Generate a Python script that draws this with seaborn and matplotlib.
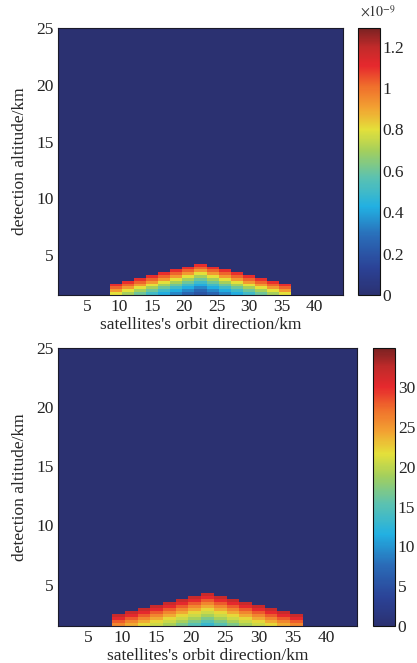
import numpy as np
import matplotlib
matplotlib.use("Agg")
import matplotlib.pyplot as plt
from matplotlib.colors import LinearSegmentedColormap
import seaborn as sns

sns.set_style("white")
plt.rcParams["font.family"] = ["Liberation Serif", "DejaVu Serif"]
plt.rcParams["mathtext.fontset"] = "stix"

# Along-track extent of the illuminated columns (km)
x_start_km = 8.5
x_end_km = 36.5
x_limits_km = (0.5, 44.5)

# Altitude grid (km)
base_alt_km = 1.5
dz_km = 0.25
y_top_km = 25.0

# Top edge altitude of the signal in each along-track column (km)
edge_alt_km = [2.50, 2.75, 3.00, 3.25, 3.50, 3.75, 4.00, 4.25,
               4.00, 3.75, 3.50, 3.25, 3.00, 2.75, 2.50]

# Cell values counted downward from the top edge of each column
upper_profile = [1.10, 1.02, 0.92, 0.80, 0.70, 0.60, 0.50, 0.42, 0.34, 0.26, 0.20]  # x1e-9
lower_profile = [32.0, 30.0, 28.0, 26.0, 24.0, 22.0, 20.5, 19.0, 17.0, 15.0, 13.0]

upper_ticks = [0, 0.2, 0.4, 0.6, 0.8, 1.0, 1.2]
upper_vmax = 1.29
lower_ticks = [0, 5, 10, 15, 20, 25, 30]
lower_vmax = 34.9

x_ticks_km = [5, 10, 15, 20, 25, 30, 35, 40]
y_ticks_km = [5, 10, 15, 20, 25]

# muted jet-like palette
jet_muted = LinearSegmentedColormap.from_list("jet_muted", [
    (0.00, "#2b3171"),
    (0.10, "#2b4296"),
    (0.22, "#2a6cb8"),
    (0.33, "#22b0e2"),
    (0.44, "#5cc2b0"),
    (0.54, "#a4cf5c"),
    (0.62, "#e4e03a"),
    (0.70, "#f2a232"),
    (0.78, "#f0702c"),
    (0.86, "#e6292d"),
    (0.93, "#c22a2a"),
    (1.00, "#7a2222"),
])


def build_grid(profile):
    n_rows = int(round((max(edge_alt_km) - base_alt_km) / dz_km))
    grid = np.zeros((n_rows, len(edge_alt_km)))
    for j, top in enumerate(edge_alt_km):
        k = int(round((top - base_alt_km) / dz_km))
        for i in range(k):
            grid[i, j] = profile[k - 1 - i]
    return grid


col_w = (x_end_km - x_start_km) / len(edge_alt_km)

fig = plt.figure(figsize=(4.17, 6.63), dpi=100)
W, H = 417.0, 663.0


def px_axes(x0, y0, x1, y1):
    return fig.add_axes([x0 / W, 1 - y1 / H, (x1 - x0) / W, (y1 - y0) / H])


panels = [
    dict(ax=px_axes(58, 28, 343, 295), cax=px_axes(358, 28, 380, 295),
         profile=upper_profile, vmax=upper_vmax, cticks=upper_ticks),
    dict(ax=px_axes(58, 348, 357, 626), cax=px_axes(373, 348, 395, 626),
         profile=lower_profile, vmax=lower_vmax, cticks=lower_ticks),
]

for p in panels:
    ax, cax = p["ax"], p["cax"]
    grid = build_grid(p["profile"])
    sns.heatmap(grid, ax=ax, cbar_ax=cax, cmap=jet_muted, vmin=0, vmax=p["vmax"],
                xticklabels=False, yticklabels=False)
    ax.set_facecolor(jet_muted(0.0))
    ax.set_xlim((x_limits_km[0] - x_start_km) / col_w, (x_limits_km[1] - x_start_km) / col_w)
    ax.set_ylim(0, (y_top_km - base_alt_km) / dz_km)
    ax.set_xticks([(v - x_start_km) / col_w for v in x_ticks_km])
    ax.set_xticklabels([str(v) for v in x_ticks_km])
    ax.set_yticks([(v - base_alt_km) / dz_km for v in y_ticks_km])
    ax.set_yticklabels([str(v) for v in y_ticks_km], rotation=0)
    ax.tick_params(length=0, labelsize=12.5, pad=3, colors="#222222")
    for s in ax.spines.values():
        s.set_visible(True)
        s.set_color("#1a1a2a")
        s.set_linewidth(0.8)
    ax.set_xlabel("satellites's orbit direction/km", fontsize=12.5, labelpad=1)
    ax.set_ylabel("detection altitude/km", fontsize=12.5, labelpad=6)

    cbar = ax.collections[0].colorbar
    cbar.outline.set_visible(True)
    cbar.outline.set_linewidth(0.8)
    cbar.outline.set_edgecolor("#111111")
    cbar.set_ticks(p["cticks"])
    cbar.set_ticklabels([f"{v:g}" for v in p["cticks"]])
    cax.tick_params(direction="in", length=3, width=0.6, labelsize=12.5, pad=2, right=True)

fig.text(360 / W, 1 - 17 / H, r"$\times10^{-9}$", fontsize=10, color="#333333")

fig.savefig("out.png", dpi=100)
